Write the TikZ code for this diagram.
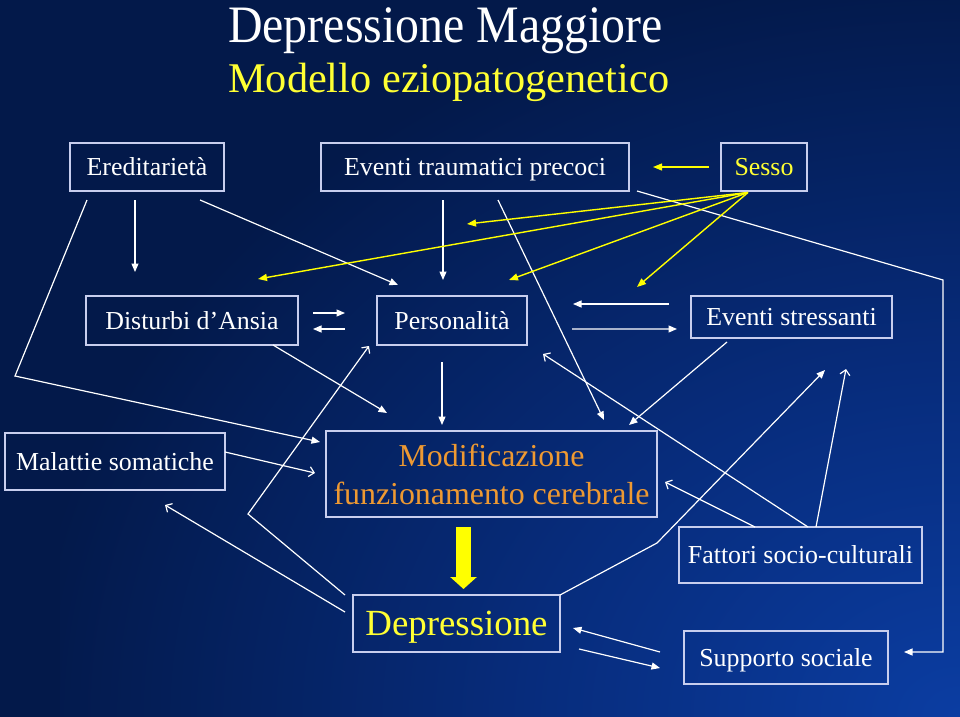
\documentclass[tikz,border=0pt]{standalone}
\usepackage{fontspec}
\usepackage{graphicx}
\setmainfont{Liberation Serif}
\usetikzlibrary{arrows.meta,calc}
\definecolor{bgdark}{HTML}{03194A}
\definecolor{bgmid}{HTML}{072C7C}
\definecolor{bgbright}{HTML}{0B3DA2}
\definecolor{boxline}{HTML}{C8CEEE}
\definecolor{ylw}{HTML}{FFFF00}
\definecolor{ytext}{HTML}{FFFF33}
\definecolor{orng}{HTML}{EE9932}
\pgfdeclareradialshading{bgshade}{\pgfpoint{0bp}{0bp}}{color(0bp)=(bgbright); color(12bp)=(bgmid); color(26bp)=(bgdark); color(50bp)=(bgdark)}
\begin{document}
\begin{tikzpicture}[x=1bp,y=-1bp,
  box/.style={draw=boxline, line width=1.4bp, inner sep=0pt, outer sep=0pt, text=white},
  sbox/.style={box, font=\fontsize{26}{30}\selectfont, text height=17bp, text depth=0pt},
  wl/.style={draw=white, line width=1.2bp},
  fa/.style={wl, -{Triangle[length=8.5bp,width=7bp]}},
  oa/.style={wl, -{Straight Barb[length=5bp,width=10bp]}},
  ya/.style={draw=ylw, line width=1.4bp, -{Triangle[length=9bp,width=7bp]}}]
\useasboundingbox (0,0) rectangle (960,717);
\begin{scope}
  \clip (0,0) rectangle (960,717);
  \fill[bgdark] (0,0) rectangle (960,717);
  \shade[shading=bgshade] (60,-3) rectangle (1860,1437);
\end{scope}

% titles
\node[anchor=base west, text=white, font=\fontsize{48}{50}\selectfont, inner sep=0pt] (t1) at (228,43) {\scalebox{1}[1.1]{Depressione Maggiore}};
\node[anchor=base west, text=ytext, font=\fontsize{42.5}{45}\selectfont, inner sep=0pt] (t2) at (228,93) {Modello eziopatogenetico};

% boxes
\node[sbox, minimum width=154bp, minimum height=48bp] (ered) at (147,167) {Ereditarietà};
\node[sbox, minimum width=308bp, minimum height=48bp] (trau) at (475,167) {Eventi traumatici precoci};
\node[sbox, minimum width=86bp, minimum height=48bp, text=ytext] (sesso) at (764,167) {Sesso};
\node[sbox, minimum width=212bp, minimum height=49bp] (ansia) at (192,320.5) {Disturbi d’Ansia};
\node[sbox, minimum width=150bp, minimum height=49bp] (pers) at (452,320.5) {Personalità};
\node[sbox, minimum width=201bp, minimum height=42bp] (stress) at (791.5,317) {Eventi stressanti};
\node[sbox, minimum width=220bp, minimum height=57bp] (malat) at (115,461.5) {Malattie somatiche};
\node[box, minimum width=331bp, minimum height=86bp, text=orng, align=center, font=\fontsize{32}{38}\selectfont] (modif) at (491.5,474) {Modificazione\\funzionamento cerebrale};
\node[box, minimum width=207bp, minimum height=57bp, text=ytext, font=\fontsize{37}{40}\selectfont, text height=24.5bp, text depth=0pt] (depr) at (456.5,623.5) {Depressione};
\node[sbox, minimum width=243bp, minimum height=56bp] (fatt) at (800.5,555) {Fattori socio-culturali};
\node[sbox, minimum width=204bp, minimum height=53bp] (supp) at (786,657.5) {Supporto sociale};

% free coordinates
\coordinate (rb1) at (943,280);
\coordinate (sptip) at ([shift={(16,-5.5)}]supp.east);
\coordinate (fr1) at (825,370);
\coordinate (fr2) at (846,369);
\coordinate (sx) at ([shift={(-16,1.5)}]sesso.south);

% from Ereditarieta
\draw[fa] ([shift={(-12,9)}]ered.south) -- ([shift={(-57,-24)}]ansia.north);
\draw[fa] ([shift={(53,9)}]ered.south) -- ([shift={(21,-11)}]pers.north west);
\draw[fa] ([shift={(17,9)}]ered.south west) -- ([shift={(10,-57)}]malat.north west) -- ([shift={(-6,11)}]modif.north west);

% from Eventi traumatici
\draw[fa] ([shift={(-32,9)}]trau.south) -- ([shift={(-9,-16)}]pers.north);
\draw[fa] ([shift={(23,9)}]trau.south) -- ([shift={(112.5,-11)}]modif.north);
\draw[fa] ([shift={(8,0)}]trau.south east) -- (rb1) -- (rb1 |- sptip) -- (sptip);

% from Sesso (yellow)
\draw[ya] ([shift={(-12,0)}]sesso.west) -- ([shift={(24,0)}]trau.east);
\draw[ya] (sx) -- ([shift={(-8,33)}]trau.south);
\draw[ya] (sx) -- ([shift={(66,-17)}]ansia.north);
\draw[ya] (sx) -- ([shift={(57,-16)}]pers.north);
\draw[ya] (sx) -- ([shift={(-54,-9)}]stress.north west);

% Disturbi d'Ansia
\draw[fa] ([shift={(15,-7.5)}]ansia.east) -- ([shift={(-32,-7.5)}]pers.west);
\draw[fa] ([shift={(-32,8.5)}]pers.west) -- ([shift={(15,8.5)}]ansia.east);
\draw[fa] ([shift={(-25,0)}]ansia.south east) -- ([shift={(61,-18)}]modif.north west);

% Personalita
\draw[fa] ([shift={(-10,17)}]pers.south) -- ([shift={(-49.5,-6)}]modif.north);
\draw[fa] ([shift={(-22,-13)}]stress.west) -- ([shift={(46,-16.5)}]pers.east);
\draw[fa] ([shift={(45,8.5)}]pers.east) -- ([shift={(-14,12)}]stress.west);

% Eventi stressanti
\draw[fa] ([shift={(36,4)}]stress.south west) -- ([shift={(137.5,-6)}]modif.north);

% Malattie somatiche
\draw[oa] ([shift={(0,-9.5)}]malat.east) -- ([shift={(-11,-1)}]modif.west);

% Depressione
\draw[oa] ([shift={(-8,-11.5)}]depr.west) -- ([shift={(50,15)}]malat.south);
\draw[oa] ([shift={(-8,0)}]depr.north west) -- ([shift={(-105,-81)}]depr.north west) -- ([shift={(-8,1)}]pers.south west);
\draw[fa] (depr.north east) -- ([shift={(97,-52)}]depr.north east) -- (fr1);
\draw[fa] ([shift={(-24,-5.5)}]supp.west) -- ([shift={(13,4.5)}]depr.east);
\draw[fa] ([shift={(19,25.5)}]depr.east) -- ([shift={(-24,10.5)}]supp.west);

% Fattori socio-culturali
\draw[oa] ([shift={(-45.5,0)}]fatt.north) -- ([shift={(8,8)}]modif.east);
\draw[oa] ([shift={(7.5,0)}]fatt.north) -- ([shift={(16,9)}]pers.south east);
\draw[oa] ([shift={(15.5,0)}]fatt.north) -- (fr2);

% big yellow arrow
\draw[ylw, line width=15bp, line cap=butt, -{Triangle[length=12bp,width=26bp]}] ([shift={(-28,10)}]modif.south) -- ([shift={(7,-6)}]depr.north);
\end{tikzpicture}
\end{document}
